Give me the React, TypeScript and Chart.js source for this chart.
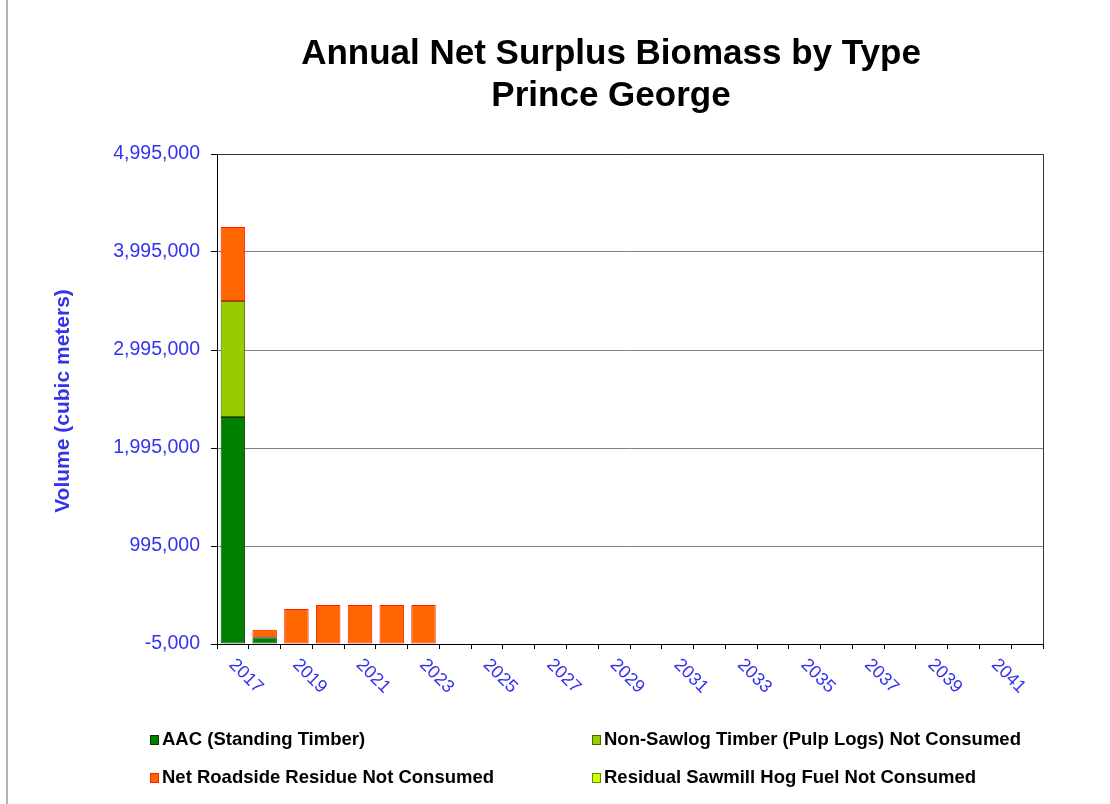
import React, { useEffect, useRef } from 'react';
import { Chart, registerables } from 'chart.js';

Chart.register(...registerables);

const titleLines = ['Annual Net Surplus Biomass by Type', 'Prince George'];
const yAxisTitle = 'Volume (cubic meters)';

const years = [
  '2017', '2018', '2019', '2020', '2021', '2022', '2023', '2024', '2025',
  '2026', '2027', '2028', '2029', '2030', '2031', '2032', '2033', '2034',
  '2035', '2036', '2037', '2038', '2039', '2040', '2041', '2042',
];

const aacStandingTimber = [
  2311000, 65000, 0, 0, 0, 0, 0, 0, 0, 0, 0, 0, 0, 0, 0, 0, 0, 0, 0, 0, 0, 0, 0, 0, 0, 0,
];
const nonSawlogPulpLogs = [
  1184000, 0, 0, 0, 0, 0, 0, 0, 0, 0, 0, 0, 0, 0, 0, 0, 0, 0, 0, 0, 0, 0, 0, 0, 0, 0,
];
const netRoadsideResidue = [
  755000, 75000, 352000, 393000, 393000, 393000, 393000, 0, 0, 0, 0, 0, 0, 0, 0, 0, 0, 0, 0, 0, 0, 0, 0, 0, 0, 0,
];
const residualSawmillHogFuel = [
  0, 0, 0, 0, 0, 0, 0, 0, 0, 0, 0, 0, 0, 0, 0, 0, 0, 0, 0, 0, 0, 0, 0, 0, 0, 0,
];

const seriesLabels = [
  'AAC (Standing Timber)',
  'Non-Sawlog Timber (Pulp Logs) Not Consumed',
  'Net Roadside Residue Not Consumed',
  'Residual Sawmill Hog Fuel Not Consumed',
];

const yMin = -5000;
const yMax = 4995000;
const yStep = 1000000;

const FONT = "'Liberation Sans', Arial, Helvetica, sans-serif";
const BLUE = '#3333ee';

const decorPlugin = {
  id: 'decor',
  afterDraw(chart: any) {
    const ctx: CanvasRenderingContext2D = chart.ctx;
    const area = chart.chartArea;
    ctx.save();

    // frame line at far left
    ctx.strokeStyle = '#b4b4b4';
    ctx.lineWidth = 2;
    ctx.beginPath();
    ctx.moveTo(7, 0);
    ctx.lineTo(7, chart.height);
    ctx.stroke();

    // plot border top & right
    ctx.strokeStyle = '#333333';
    ctx.lineWidth = 1;
    ctx.beginPath();
    ctx.moveTo(area.left, area.top + 0.5);
    ctx.lineTo(area.right + 0.5, area.top + 0.5);
    ctx.lineTo(area.right + 0.5, area.bottom);
    ctx.stroke();

    // title
    ctx.fillStyle = '#000';
    ctx.font = `bold 35px ${FONT}`;
    ctx.textAlign = 'center';
    ctx.textBaseline = 'middle';
    ctx.fillText(titleLines[0], 611, 54);
    ctx.fillText(titleLines[1], 611, 96);

    // y-axis title
    ctx.save();
    ctx.translate(63, 401);
    ctx.rotate(-Math.PI / 2);
    ctx.fillStyle = BLUE;
    ctx.font = `bold 21px ${FONT}`;
    ctx.fillText(yAxisTitle, 0, 0);
    ctx.restore();

    // x tick labels, rotated clockwise
    const xs = chart.scales.x;
    ctx.fillStyle = BLUE;
    ctx.font = `18px ${FONT}`;
    ctx.textAlign = 'left';
    ctx.textBaseline = 'middle';
    for (let i = 0; i < years.length; i += 2) {
      const px = xs.getPixelForTick(i);
      ctx.save();
      ctx.translate(px - 1, area.bottom + 18);
      ctx.rotate(Math.PI / 4);
      ctx.fillText(years[i], 0, 0);
      ctx.restore();
    }

    // legend
    const pos = [
      [150, 740],
      [592, 740],
      [150, 778],
      [592, 778],
    ];
    ctx.font = `bold 18.5px ${FONT}`;
    ctx.textAlign = 'left';
    ctx.textBaseline = 'middle';
    chart.data.datasets.forEach((ds: any, i: number) => {
      const [lx, ly] = pos[i];
      ctx.fillStyle = ds.backgroundColor;
      ctx.fillRect(lx, ly - 5, 9, 10);
      ctx.strokeStyle = ds.legendBorder;
      ctx.lineWidth = 1;
      ctx.strokeRect(lx + 0.5, ly - 4.5, 8, 9);
      ctx.fillStyle = '#000';
      ctx.fillText(ds.label, lx + 12, ly);
    });

    ctx.restore();
  },
};

export default function App() {
  const ref = useRef<HTMLCanvasElement | null>(null);

  useEffect(() => {
    if (!ref.current) return;
    const chart = new Chart(ref.current, {
      type: 'bar',
      data: {
        labels: years,
        datasets: [
          {
            label: seriesLabels[0],
            data: aacStandingTimber,
            backgroundColor: '#008000',
            borderColor: '#0a3a0a',
            legendBorder: '#0a3a0a',
            borderWidth: 1,
            borderSkipped: false,
          } as any,
          {
            label: seriesLabels[1],
            data: nonSawlogPulpLogs,
            backgroundColor: '#99cc00',
            borderColor: '#4a6a00',
            legendBorder: '#4a6a00',
            borderWidth: 1,
            borderSkipped: false,
          } as any,
          {
            label: seriesLabels[2],
            data: netRoadsideResidue,
            backgroundColor: '#ff6600',
            borderColor: '#ff1a00',
            legendBorder: '#ff1a00',
            borderWidth: 1,
            borderSkipped: false,
          } as any,
          {
            label: seriesLabels[3],
            data: residualSawmillHogFuel,
            backgroundColor: '#ccff00',
            borderColor: '#6b8e00',
            legendBorder: '#6b8e00',
            borderWidth: 1,
            borderSkipped: false,
          } as any,
        ],
      },
      options: {
        responsive: false,
        animation: false,
        devicePixelRatio: 1,
        layout: { padding: { top: 154, right: 67, bottom: 0, left: 0 } },
        plugins: {
          legend: { display: false },
          title: { display: false },
          tooltip: { enabled: false },
        },
        datasets: {
          bar: { categoryPercentage: 1, barPercentage: 0.77 },
        },
        scales: {
          x: {
            stacked: true,
            offset: true,
            afterFit: (s: any) => {
              s.height = 160;
            },
            grid: {
              display: true,
              offset: true,
              drawOnChartArea: false,
              drawTicks: true,
              tickLength: 5,
              tickColor: '#000',
              color: '#000',
            },
            border: { display: true, color: '#000', width: 1 },
            ticks: { display: false, autoSkip: false },
          },
          y: {
            stacked: true,
            min: yMin,
            max: yMax,
            afterFit: (s: any) => {
              s.width = 217;
            },
            afterBuildTicks: (s: any) => {
              const t = [];
              for (let v = yMin; v <= yMax; v += yStep) t.push({ value: v });
              s.ticks = t;
            },
            grid: {
              color: '#808080',
              lineWidth: 1,
              drawTicks: true,
              tickLength: 6,
              tickColor: '#000',
            },
            border: { display: true, color: '#000', width: 1 },
            ticks: {
              color: BLUE,
              padding: 11,
              font: { family: FONT, size: 19.5 },
              callback: (v: any) => Number(v).toLocaleString('en-US'),
            },
          },
        },
      } as any,
      plugins: [decorPlugin],
    });
    return () => chart.destroy();
  }, []);

  return (
    <div style={{ position: 'fixed', left: 0, top: 0, width: 1110, height: 804, background: '#fff' }}>
      <canvas ref={ref} width={1110} height={804} style={{ display: 'block' }} />
    </div>
  );
}
